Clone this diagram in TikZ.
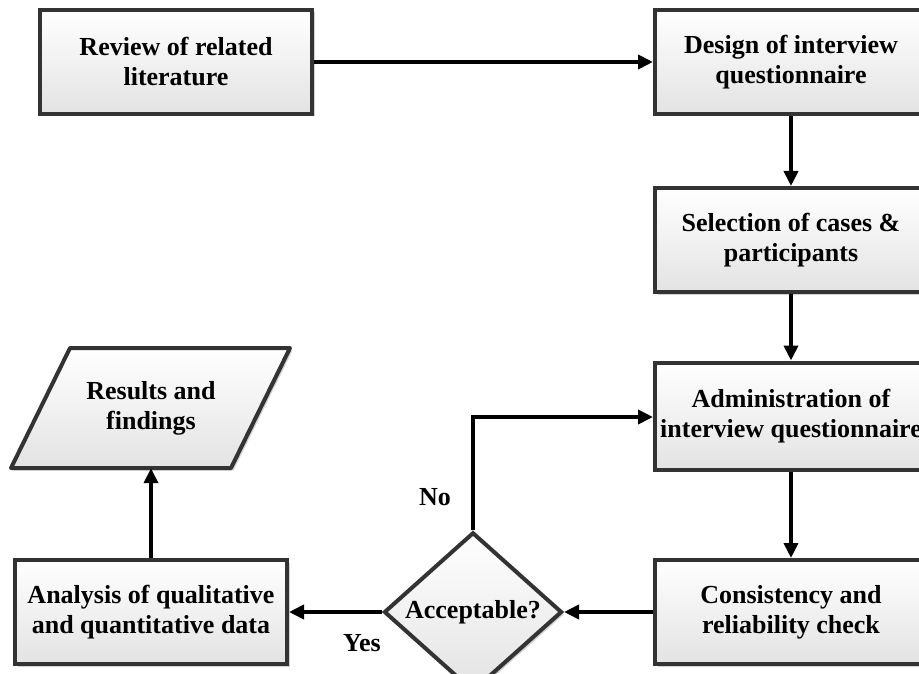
\documentclass[tikz,border=0pt]{standalone}
\usepackage{fontspec}
\setmainfont{Liberation Serif}
\usetikzlibrary{arrows.meta,shapes.geometric,shadows}
\definecolor{edge}{HTML}{333333}
\tikzset{
  boxstyle/.style={draw=edge, line width=4pt, rectangle, minimum width=272pt, minimum height=104pt,
    top color=white, bottom color=gray!22, align=center, inner sep=0pt,
    drop shadow={shadow xshift=2.5pt, shadow yshift=-2.5pt, opacity=0.35, fill=gray}},
  txt/.style={font=\bfseries\fontsize{26}{30}\selectfont},
  conn/.style={line width=4pt, -{Triangle[length=15pt,width=14pt]}},
}
\begin{document}
\begin{tikzpicture}[x=1pt,y=-1pt]
\clip (0,0) rectangle (919,674);
\fill[white] (0,0) rectangle (919,674);
\node[boxstyle, txt] (rev) at (176,62) {Review of related\\literature};
\node[boxstyle, txt] (des) at (791,62) {Design of interview\\questionnaire};
\node[boxstyle, txt] (sel) at (791,240) {Selection of cases \&\\participants};
\node[boxstyle, txt, minimum height=107pt] (adm) at (791,416) {Administration of\\interview questionnaire};
\node[boxstyle, txt] (con) at (791,612) {Consistency and\\reliability check};
\node[boxstyle, txt] (ana) at (151,612) {Analysis of qualitative\\and quantitative data};
\node[diamond, draw=edge, line width=4pt, minimum width=178pt, minimum height=126pt, inner sep=0pt,
  top color=white, bottom color=gray!22,
  drop shadow={shadow xshift=2.5pt, shadow yshift=-2.5pt, opacity=0.35, fill=gray}, txt] (acc) at (473,612) {Acceptable?};
% parallelogram
\coordinate (r1) at (70,348);
\coordinate (r2) at (290,348);
\coordinate (r3) at (231,468);
\coordinate (r4) at (11,468);
\fill[gray, opacity=0.35] ([shift={(2.5,2.5)}]r1) -- ([shift={(2.5,2.5)}]r2) -- ([shift={(2.5,2.5)}]r3) -- ([shift={(2.5,2.5)}]r4) -- cycle;
\shade[top color=white, bottom color=gray!22] (r1) -- (r2) -- (r3) -- (r4) -- cycle;
\draw[edge, line width=4pt, line join=round] (r1) -- (r2) -- (r3) -- (r4) -- cycle;
\node[txt, align=center, minimum height=120pt, inner sep=0pt] (res) at (151,408) {Results and\\findings};
% connectors
\draw[conn] (rev) -- (des);
\draw[conn] (des) -- (sel);
\draw[conn] (sel) -- (adm);
\draw[conn] (adm) -- (con);
\draw[conn] (con) -- (acc);
\draw[conn] (acc) -- (ana);
\draw[conn] (ana) -- (res);
\coordinate (bend) at (473,417);
\draw[conn] (acc.north) -- (bend) -- (bend -| adm.west);
\node[txt] (no) at (435,497) {No};
\node[txt] (yes) at (362,643) {Yes};
\end{tikzpicture}
\end{document}
